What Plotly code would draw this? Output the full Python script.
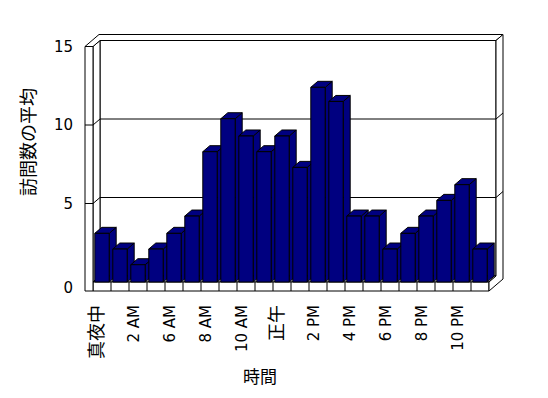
import plotly.graph_objects as go

# ---------------- data ----------------
categories = ["真夜中", "1 AM", "2 AM", "4 AM", "6 AM", "7 AM", "8 AM", "9 AM",
              "10 AM", "11 AM", "正午", "1 PM", "2 PM", "3 PM", "4 PM", "5 PM",
              "6 PM", "7 PM", "8 PM", "9 PM", "10 PM", "11 PM"]
visits = [3.1, 2.1, 1.1, 2.1, 3.1, 4.2, 8.3, 10.4, 9.3, 8.3, 9.3, 7.3,
          12.4, 11.5, 4.2, 4.2, 2.1, 3.1, 4.2, 5.2, 6.2, 2.1]
y_ticks = [0, 5, 10, 15]
y_grid = [5, 10]
x_title = "時間"
y_title = "訪問数の平均"

# ---------------- geometry (pixels of the oblique 3D box) ----------------
W, H = 548, 398
PLOT_L, PLOT_R, PLOT_T, PLOT_B = 80, 510, 30, 298
FRONT_L_PX = 93
FLOOR_PX = 282
CAT_PX = 18
UNIT_PX = 15.7
DEPTH_X_PX, DEPTH_Y_PX = 7, 6
WALL_PX = 8
FLOOR_T_PX = 9
BAR_W = 0.8
LABEL_SHIFT = -0.2
ZERO_LABEL_SHIFT_PX = 6

N = len(categories)
YMAX = y_ticks[-1]
xr = [-0.5 - (FRONT_L_PX - PLOT_L) / CAT_PX, -0.5 + (PLOT_R - FRONT_L_PX) / CAT_PX]
yr = [-(PLOT_B - FLOOR_PX) / UNIT_PX, (FLOOR_PX - PLOT_T) / UNIT_PX]
dx = DEPTH_X_PX / CAT_PX
dy = DEPTH_Y_PX / UNIT_PX
wt = WALL_PX / CAT_PX
ft = FLOOR_T_PX / UNIT_PX
x0, x1 = -0.5, N - 0.5

NAVY = "#000080"
shapes = []


def poly(pts, fill="white"):
    d = "M " + " L ".join(f"{px},{py}" for px, py in pts) + " Z"
    shapes.append(dict(type="path", path=d, xref="x", yref="y", layer="below",
                       fillcolor=fill, line=dict(color="black", width=1)))


def seg(a, b):
    shapes.append(dict(type="line", x0=a[0], y0=a[1], x1=b[0], y1=b[1],
                       xref="x", yref="y", layer="below",
                       line=dict(color="black", width=1)))


# walls / floor
poly([(x0 + dx, dy), (x1 + dx, dy), (x1 + dx, YMAX + dy), (x0 + dx, YMAX + dy)])
poly([(x0, 0), (x0 + dx, dy), (x0 + dx, YMAX + dy), (x0, YMAX)])
poly([(x0, 0), (x1, 0), (x1 + dx, dy), (x0 + dx, dy)])
poly([(x0, 0), (x1, 0), (x1, -ft), (x0, -ft)])
poly([(x0 - wt, YMAX), (x0, YMAX), (x0, -ft), (x0 - wt, -ft)])
poly([(x0 - wt, YMAX), (x0, YMAX), (x0 + dx, YMAX + dy), (x1 + dx, YMAX + dy),
      (x1 + 2 * dx, YMAX + 2 * dy), (x0 - wt + 2 * dx, YMAX + 2 * dy)])
poly([(x1, 0), (x1, -ft), (x1 + 2 * dx, -ft + 2 * dy), (x1 + 2 * dx, YMAX + 2 * dy),
      (x1 + dx, YMAX + dy), (x1 + dx, dy)])
for i in range(1, N):
    seg((x0 + i, 0), (x0 + i, -ft))

# gridlines
for v in y_grid:
    seg((x0 - wt, v), (x0, v))
    seg((x0, v), (x0 + dx, v + dy))
    seg((x0 + dx, v + dy), (x1 + dx, v + dy))
    seg((x1 + dx, v + dy), (x1 + 2 * dx, v + 2 * dy))

# bar side & top faces
for i, v in enumerate(visits):
    xl, xrr = i - BAR_W / 2, i + BAR_W / 2
    poly([(xrr, 0), (xrr + dx, dy), (xrr + dx, v + dy), (xrr, v)], fill=NAVY)
    poly([(xl, v), (xrr, v), (xrr + dx, v + dy), (xl + dx, v + dy)], fill=NAVY)

fig = go.Figure()
fig.add_trace(go.Bar(x=list(range(N)), y=visits, width=BAR_W,
                     marker=dict(color=NAVY, line=dict(color="black", width=1)),
                     hoverinfo="skip"))


def lbl(s):
    if s.isascii():
        return s
    return f'<span style="font-size:18px">{s}</span>'


FONT = "'DejaVu Sans', 'Noto Sans CJK JP', sans-serif"
CJK = "'Noto Sans CJK JP', sans-serif"
y_tickvals = [t if t != 0 else -ZERO_LABEL_SHIFT_PX / UNIT_PX for t in y_ticks]
fig.update_layout(
    width=W, height=H, autosize=False,
    margin=dict(l=PLOT_L, r=W - PLOT_R, t=PLOT_T, b=H - PLOT_B, pad=0),
    paper_bgcolor="white", plot_bgcolor="white",
    showlegend=False, shapes=shapes,
    font=dict(family=FONT, size=15, color="black"),
    xaxis=dict(range=xr, showgrid=False, zeroline=False, showline=False,
               tickmode="array",
               tickvals=[i + LABEL_SHIFT for i in range(0, N, 2)],
               ticktext=[lbl(c) for c in categories[::2]], tickangle=-90, ticks="",
               ticklabelstandoff=3,
               tickfont=dict(size=15, color="black")),
    yaxis=dict(range=yr, showgrid=False, zeroline=False, showline=False,
               tickmode="array", tickvals=y_tickvals,
               ticktext=[str(t) for t in y_ticks], ticks="",
               ticklabelstandoff=6, tickfont=dict(size=15, color="black")),
    annotations=[
        dict(text=x_title, showarrow=False, xref="paper", yref="paper",
             x=(260 - PLOT_L) / (PLOT_R - PLOT_L), y=(PLOT_B - 375) / (PLOT_B - PLOT_T),
             xanchor="center", yanchor="middle",
             font=dict(family=CJK, size=17, color="black")),
        dict(text=y_title, showarrow=False, xref="paper", yref="paper", textangle=-90,
             x=(27 - PLOT_L) / (PLOT_R - PLOT_L), y=(PLOT_B - 142) / (PLOT_B - PLOT_T),
             xanchor="center", yanchor="middle",
             font=dict(family=CJK, size=18, color="black")),
    ],
)

fig.write_html("out.html")
